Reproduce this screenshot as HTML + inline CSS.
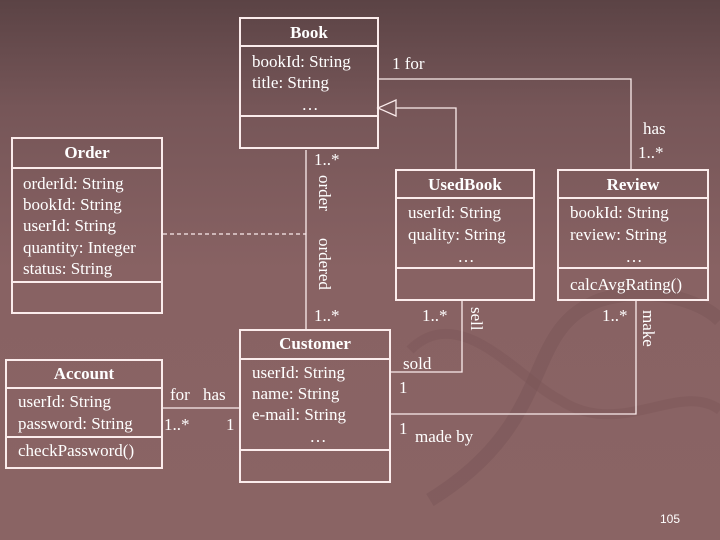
<!DOCTYPE html>
<html><head><meta charset="utf-8"><style>
html,body{margin:0;padding:0;width:720px;height:540px;overflow:hidden}
svg{display:block}
text{font-family:"Liberation Serif",serif;fill:#fff;font-size:17px}
.b{font-weight:bold}
</style></head><body>
<svg width="720" height="540" viewBox="0 0 720 540" xmlns="http://www.w3.org/2000/svg">
<defs><linearGradient id="g" x1="0" y1="0" x2="0" y2="1">
<stop offset="0" stop-color="#5b4345"/><stop offset="0.2" stop-color="#765658"/><stop offset="0.5" stop-color="#886263"/><stop offset="1" stop-color="#8a6464"/></linearGradient></defs>
<rect width="720" height="540" fill="url(#g)"/>
<path d="M430 500 C560 420 520 330 600 300 C650 285 700 300 720 320" stroke="#7a5557" stroke-width="14" fill="none" opacity="0.5"/>
<path d="M410 350 C460 300 520 380 560 400 C620 440 680 380 720 410" stroke="#7a5557" stroke-width="10" fill="none" opacity="0.4"/>
<g stroke="#fbecec" fill="none" stroke-width="2">
<rect x="240" y="18" width="138" height="130"/><line x1="240" y1="46" x2="378" y2="46"/><line x1="240" y1="116" x2="378" y2="116"/>
<rect x="12" y="138" width="150" height="175"/><line x1="12" y1="168" x2="162" y2="168"/><line x1="12" y1="282" x2="162" y2="282"/>
<rect x="396" y="170" width="138" height="130"/><line x1="396" y1="198" x2="534" y2="198"/><line x1="396" y1="268" x2="534" y2="268"/>
<rect x="558" y="170" width="150" height="130"/><line x1="558" y1="198" x2="708" y2="198"/><line x1="558" y1="268" x2="708" y2="268"/>
<rect x="240" y="330" width="150" height="152"/><line x1="240" y1="359" x2="390" y2="359"/><line x1="240" y1="450" x2="390" y2="450"/>
<rect x="6" y="360" width="156" height="108"/><line x1="6" y1="388" x2="162" y2="388"/><line x1="6" y1="437" x2="162" y2="437"/>
</g>
<g stroke="#fbecec" fill="none" stroke-width="1.3">
<line x1="306" y1="150" x2="306" y2="330"/>
<line x1="163" y1="234" x2="306" y2="234" stroke-dasharray="4,3"/>
<polyline points="378,79 631,79 631,170"/>
<polyline points="396,108 456,108 456,170"/>
<polygon points="378,108 396,100 396,116"/>
<line x1="162" y1="408" x2="240" y2="408"/>
<polyline points="462,300 462,372 390,372"/>
<polyline points="636,300 636,414 390,414"/>
</g>
<text x="309" y="38" text-anchor="middle" class="b">Book</text>
<text x="252" y="67">bookId: String</text><text x="252" y="88">title: String</text><text x="310" y="110" text-anchor="middle">…</text>
<text x="87" y="158" text-anchor="middle" class="b">Order</text>
<text x="23" y="189">orderId: String</text><text x="23" y="210">bookId: String</text><text x="23" y="231">userId: String</text><text x="23" y="253">quantity: Integer</text><text x="23" y="274">status: String</text>
<text x="465" y="190" text-anchor="middle" class="b">UsedBook</text>
<text x="408" y="218">userId: String</text><text x="408" y="240">quality: String</text><text x="466" y="262" text-anchor="middle">…</text>
<text x="633" y="190" text-anchor="middle" class="b">Review</text>
<text x="570" y="218">bookId: String</text><text x="570" y="240">review: String</text><text x="634" y="262" text-anchor="middle">…</text><text x="570" y="290">calcAvgRating()</text>
<text x="315" y="349" text-anchor="middle" class="b">Customer</text>
<text x="252" y="378">userId: String</text><text x="252" y="399">name: String</text><text x="252" y="420">e-mail: String</text><text x="318" y="442" text-anchor="middle">…</text>
<text x="84" y="379" text-anchor="middle" class="b">Account</text>
<text x="18" y="407">userId: String</text><text x="18" y="429">password: String</text><text x="18" y="456">checkPassword()</text>
<text x="392" y="69">1  for</text>
<text x="643" y="134">has</text><text x="638" y="158">1..*</text>
<text x="314" y="165">1..*</text><text x="314" y="321">1..*</text>
<text x="319" y="175" transform="rotate(90 319 175)">order</text>
<text x="319" y="238" transform="rotate(90 319 238)">ordered</text>
<text x="422" y="321">1..*</text><text x="602" y="321">1..*</text>
<text x="471" y="307" transform="rotate(90 471 307)">sell</text>
<text x="643" y="310" transform="rotate(90 643 310)">make</text>
<text x="403" y="369">sold</text><text x="399" y="393">1</text>
<text x="399" y="434">1</text><text x="415" y="442">made by</text>
<text x="170" y="400">for</text><text x="203" y="400">has</text>
<text x="164" y="430">1..*</text><text x="226" y="430">1</text>
<text x="660" y="523" style="font-family:'Liberation Sans',sans-serif;font-size:12px">105</text>
</svg>
</body></html>
